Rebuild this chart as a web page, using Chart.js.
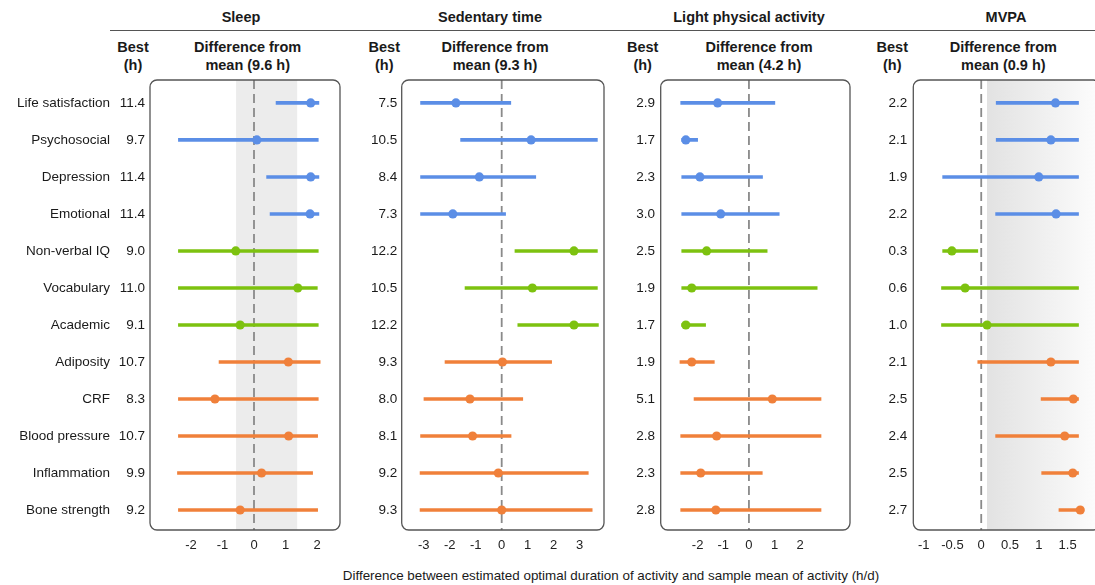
<!DOCTYPE html>
<html>
<head>
<meta charset="utf-8">
<script src="https://cdn.jsdelivr.net/npm/chart.js@4"></script>
<style>
  html, body { margin: 0; padding: 0; background: #fff; width: 1095px; height: 585px; overflow: hidden; }
  body { position: relative; font-family: "Liberation Sans", Arial, sans-serif; color: #1a1a1a; }
  .panel { position: absolute; top: 0; height: 560px; }
  .txt { position: absolute; white-space: nowrap; transform: translate(-50%, -50%); line-height: 1; }
  .b { font-weight: bold; font-size: 14.5px; }
  .hline { position: absolute; left: 110px; top: 30px; width: 985px; border-top: 1.5px solid #555; }
  .xtitle { font-size: 13.4px; }
</style>
</head>
<body>
<div class="hline"></div>
<div id="texts"></div>
<div class="panel" id="p0"><canvas id="c0"></canvas></div>
<div class="panel" id="p1"><canvas id="c1"></canvas></div>
<div class="panel" id="p2"><canvas id="c2"></canvas></div>
<div class="panel" id="p3"><canvas id="c3"></canvas></div>
<div class="txt xtitle" style="left:611px; top:576px;">Difference between estimated optimal duration of activity and sample mean of activity (h/d)</div>

<script>
// Outcomes (rows, top to bottom) and their domain colours
const categories = ['Life satisfaction', 'Psychosocial', 'Depression', 'Emotional', 'Non-verbal IQ', 'Vocabulary',
    'Academic', 'Adiposity', 'CRF', 'Blood pressure', 'Inflammation', 'Bone strength'];
const blue = '#5b8ee6', green = '#7dc20f', orange = '#f0803a';
const rowColors = [blue, blue, blue, blue, green, green, green, orange, orange, orange, orange, orange];

// Sleep
const sleepBest = [11.4, 9.7, 11.4, 11.4, 9.0, 11.0, 9.1, 10.7, 8.3, 10.7, 9.9, 9.2];
const sleepEst = [1.80, 0.09, 1.80, 1.78, -0.58, 1.39, -0.44, 1.09, -1.24, 1.10, 0.24, -0.44];
const sleepLo = [0.70, -2.40, 0.40, 0.51, -2.40, -2.40, -2.40, -1.11, -2.40, -2.40, -2.43, -2.40];
const sleepHi = [2.06, 2.04, 2.06, 2.06, 2.04, 2.01, 2.04, 2.10, 2.04, 2.02, 1.86, 2.02];
const sleepTicks = [-2, -1, 0, 1, 2];

// Sedentary time
const sedBest = [7.5, 10.5, 8.4, 7.3, 12.2, 10.5, 12.2, 9.3, 8.0, 8.1, 9.2, 9.3];
const sedEst = [-1.76, 1.13, -0.86, -1.88, 2.78, 1.18, 2.78, 0.03, -1.22, -1.12, -0.13, 0];
const sedLo = [-3.12, -1.58, -3.12, -3.12, 0.51, -1.41, 0.62, -2.18, -2.99, -3.12, -3.14, -3.14];
const sedHi = [0.35, 3.68, 1.31, 0.15, 3.68, 3.68, 3.72, 1.92, 0.81, 0.36, 3.33, 3.48];
const sedTicks = [-3, -2, -1, 0, 1, 2, 3];

// Light physical activity
const lpaBest = [2.9, 1.7, 2.3, 3.0, 2.5, 1.9, 1.7, 1.9, 5.1, 2.8, 2.3, 2.8];
const lpaEst = [-1.22, -2.46, -1.91, -1.10, -1.65, -2.23, -2.46, -2.23, 0.91, -1.26, -1.88, -1.29];
const lpaLo = [-2.66, -2.62, -2.62, -2.62, -2.62, -2.62, -2.62, -2.69, -2.14, -2.66, -2.66, -2.66];
const lpaHi = [1.01, -2.00, 0.53, 1.18, 0.71, 2.66, -1.69, -1.35, 2.81, 2.81, 0.52, 2.81];
const lpaTicks = [-2, -1, 0, 1, 2];

// MVPA
const mvpaBest = [2.2, 2.1, 1.9, 2.2, 0.3, 0.6, 1.0, 2.1, 2.5, 2.4, 2.5, 2.7];
const mvpaEst = [1.29, 1.21, 1.00, 1.30, -0.51, -0.28, 0.10, 1.21, 1.60, 1.45, 1.59, 1.72];
const mvpaLo = [0.26, 0.26, -0.67, 0.25, -0.67, -0.69, -0.69, -0.06, 1.04, 0.25, 1.05, 1.35];
const mvpaHi = [1.69, 1.69, 1.69, 1.69, -0.06, 1.69, 1.69, 1.69, 1.69, 1.69, 1.69, 1.69];
const mvpaTicks = [-1, -0.5, 0, 0.5, 1, 1.5];

const sleepBand = [-0.57, 1.37];
const mvpaFadeFrom = 0.1;

// Panel layout (page pixels)
const panels = [
    { title: 'Sleep', mean: '9.6', best: sleepBest, est: sleepEst, lo: sleepLo, hi: sleepHi, ticks: sleepTicks,
      xMin: -3.302, xMax: 2.730, left: 0, width: 345, axisW: 38, labelPad: 5, padRight: 5,
      titleX: 241, bestX: 133, diffX: 247.7, names: true, band: sleepBand },
    { title: 'Sedentary time', mean: '9.3', best: sedBest, est: sedEst, lo: sedLo, hi: sedHi, ticks: sedTicks,
      xMin: -3.846, xMax: 3.935, left: 345, width: 264, axisW: 56.7, labelPad: 4.4, padRight: 5,
      titleX: 490, bestX: 384.3, diffX: 495 },
    { title: 'Light physical activity', mean: '4.2', best: lpaBest, est: lpaEst, lo: lpaLo, hi: lpaHi, ticks: lpaTicks,
      xMin: -3.44, xMax: 3.94, left: 606, width: 250, axisW: 54.7, labelPad: 5.7, padRight: 6,
      titleX: 749, bestX: 642.7, diffX: 759 },
    { title: 'MVPA', mean: '0.9', best: mvpaBest, est: mvpaEst, lo: mvpaLo, hi: mvpaHi, ticks: mvpaTicks,
      xMin: -1.18, xMax: 2.07, left: 855, width: 250, axisW: 58.3, labelPad: 6, padRight: 3,
      titleX: 1006, bestX: 892.3, diffX: 1003.3, fade: mvpaFadeFrom }
];

Chart.defaults.font.family = '"Liberation Sans", Arial, sans-serif';
Chart.defaults.color = '#1a1a1a';

// Header texts
const texts = document.getElementById('texts');
function addText(str, x, y, cls) {
    const d = document.createElement('div');
    d.className = 'txt ' + cls;
    d.style.left = x + 'px';
    d.style.top = y + 'px';
    d.textContent = str;
    texts.appendChild(d);
}
panels.forEach(p => {
    addText(p.title, p.titleX, 17, 'b');
    addText('Best', p.bestX, 46.7, 'b');
    addText('(h)', p.bestX, 65, 'b');
    addText('Difference from', p.diffX, 46.7, 'b');
    addText('mean (' + p.mean + ' h)', p.diffX, 65, 'b');
});

// Band, dashed zero line and rounded frame
function framePlugin(p) {
    return {
        id: 'frame',
        beforeDatasetsDraw(chart) {
            const { ctx, chartArea: a, scales: { x } } = chart;
            ctx.save();
            if (p.band) {
                const x0 = x.getPixelForValue(p.band[0]), x1 = x.getPixelForValue(p.band[1]);
                ctx.fillStyle = '#ececec';
                ctx.fillRect(x0, a.top, x1 - x0, a.bottom - a.top);
            }
            if (p.fade !== undefined) {
                const x0 = x.getPixelForValue(p.fade);
                const g = ctx.createLinearGradient(x0, 0, a.right, 0);
                g.addColorStop(0, '#e2e2e2');
                g.addColorStop(1, '#fdfdfd');
                ctx.fillStyle = g;
                ctx.fillRect(x0, a.top, a.right - x0, a.bottom - a.top);
            }
            const z = x.getPixelForValue(0);
            ctx.strokeStyle = '#8a8a8a';
            ctx.lineWidth = 1.8;
            ctx.setLineDash([9, 5]);
            ctx.beginPath();
            ctx.moveTo(z, a.top);
            ctx.lineTo(z, a.bottom);
            ctx.stroke();
            ctx.restore();
        },
        afterDraw(chart) {
            const { ctx, chartArea: a } = chart;
            const r = 7;
            ctx.save();
            ctx.strokeStyle = '#555';
            ctx.lineWidth = 1.3;
            ctx.beginPath();
            ctx.moveTo(a.left + r, a.top);
            ctx.arcTo(a.right, a.top, a.right, a.bottom, r);
            ctx.arcTo(a.right, a.bottom, a.left, a.bottom, r);
            ctx.arcTo(a.left, a.bottom, a.left, a.top, r);
            ctx.arcTo(a.left, a.top, a.right, a.top, r);
            ctx.closePath();
            ctx.stroke();
            ctx.restore();
        }
    };
}

const rowTicks = s => { s.ticks = categories.map((_, i) => ({ value: i })); };

function makeChart(p, idx) {
    const wrap = document.getElementById('p' + idx);
    wrap.style.left = p.left + 'px';
    wrap.style.width = p.width + 'px';

    const rowAxis = {
        type: 'linear', position: 'left', reverse: true, min: -0.62, max: 11.54, display: true,
        offset: false,
        grid: { display: false, drawTicks: false, offset: false }, border: { display: false },
        afterBuildTicks: rowTicks
    };

    const scales = {
        x: {
            type: 'linear', min: p.xMin, max: p.xMax, offset: false,
            grid: { display: false, drawTicks: false }, border: { display: false },
            afterBuildTicks: s => { s.ticks = p.ticks.map(v => ({ value: v })); },
            afterFit: s => { s.height = 30; },
            ticks: { autoSkip: false, maxRotation: 0, padding: 8, color: '#222', font: { size: 13 },
                     callback: v => String(v) }
        },
        y: Object.assign({}, rowAxis, {
            weight: 1,
            afterFit: s => { s.width = p.axisW; },
            ticks: { padding: p.labelPad, font: { size: 13.5 }, callback: v => p.best[v].toFixed(1) }
        })
    };
    if (p.names) {
        scales.yNames = Object.assign({}, rowAxis, {
            weight: 2,
            afterFit: s => { s.width = 112; },
            ticks: { padding: 2, font: { size: 13.5 }, callback: v => categories[v] }
        });
    }

    return new Chart(document.getElementById('c' + idx), {
        type: 'bar',
        data: {
            datasets: [
                {
                    type: 'scatter', order: 0,
                    data: p.est.map((v, i) => ({ x: v, y: i })),
                    pointBackgroundColor: rowColors, pointBorderWidth: 0,
                    pointRadius: 4.6, pointHoverRadius: 4.6
                },
                {
                    type: 'bar', order: 1,
                    data: p.lo.map((v, i) => ({ x: [v, p.hi[i]], y: i })),
                    backgroundColor: rowColors, borderWidth: 0, barThickness: 3
                }
            ]
        },
        options: {
            indexAxis: 'y',
            responsive: true,
            maintainAspectRatio: false,
            animation: false,
            events: [],
            layout: { padding: { top: 80, right: p.padRight, left: 0, bottom: 0 } },
            plugins: { legend: { display: false }, tooltip: { enabled: false } },
            scales: scales
        },
        plugins: [framePlugin(p)]
    });
}

panels.forEach((p, i) => makeChart(p, i));
</script>
</body>
</html>
